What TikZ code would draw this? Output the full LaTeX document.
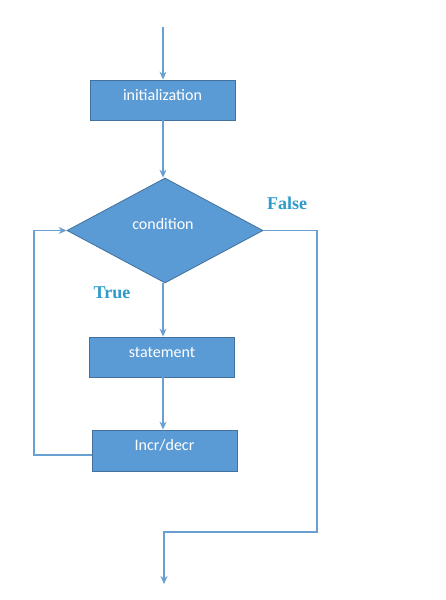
\documentclass[tikz,border=0pt]{standalone}
\usepackage{fontspec}
\setmainfont{Carlito}
\newfontfamily\labfont{Liberation Serif}
\usetikzlibrary{arrows.meta,shapes.geometric}
\definecolor{boxfill}{HTML}{5B9BD5}
\definecolor{boxline}{HTML}{41719C}
\definecolor{conn}{HTML}{6A9FD2}
\definecolor{labcol}{HTML}{2E9BCB}
\tikzset{
  x=1pt,y=-1pt,
  stepbox/.style={draw=boxline,fill=boxfill,line width=0.8pt,minimum width=145pt,minimum height=40pt,inner sep=0pt},
  boxtext/.style={text=white,font=\fontsize{16}{18}\selectfont},
  cond/.style={draw=boxline,fill=boxfill,line width=0.8pt,diamond,aspect=1.87,minimum width=196pt,minimum height=105pt,inner sep=0pt},
  conn/.style={draw=conn,line width=1.1pt,-{Stealth[length=8pt,width=7pt]}},
  lab/.style={text=labcol,font=\labfont\bfseries\fontsize{18}{20}\selectfont,inner sep=0pt}
}
\begin{document}
\begin{tikzpicture}
\useasboundingbox (0,0) rectangle (445,600);
\fill[white] (0,0) rectangle (445,600);
\coordinate (start) at (163,27);
\node[stepbox] (init) at (162.5,100) {};
\node[boxtext] at (162.5,95) {initialization};
\node[cond] (cond) at (165,230.5) {};
\node[boxtext] at (163,224) {condition};
\node[stepbox] (stmt) at (162,357) {};
\node[boxtext] at (162,352) {statement};
\node[stepbox,minimum height=41pt] (incr) at (164.5,450.5) {};
\node[boxtext] at (164.5,445) {Incr/decr};
\node[lab] (false) at (287,203) {False};
\node[lab] (true) at (112,293) {True};
\coordinate (r1) at (317,230.5);
\coordinate (r2) at (317,532);
\coordinate (r3) at (164,532);
\coordinate (endp) at (164,584);
\coordinate (l1) at (34,455);
\coordinate (l2) at (34,230.5);
\draw[conn] (start) -- (init.north -| start);
\draw[conn] (init.south -| start) -- (cond.north -| start);
\draw[conn] (cond.south -| start) -- (stmt.north -| start);
\draw[conn] (stmt.south -| start) -- (incr.north -| start);
\draw[conn] (cond.east) -- (r1) -- (r2) -- (r3) -- (endp);
\draw[conn] (incr.west |- l1) -- (l1) -- (l2) -- (cond.west);
\end{tikzpicture}
\end{document}
